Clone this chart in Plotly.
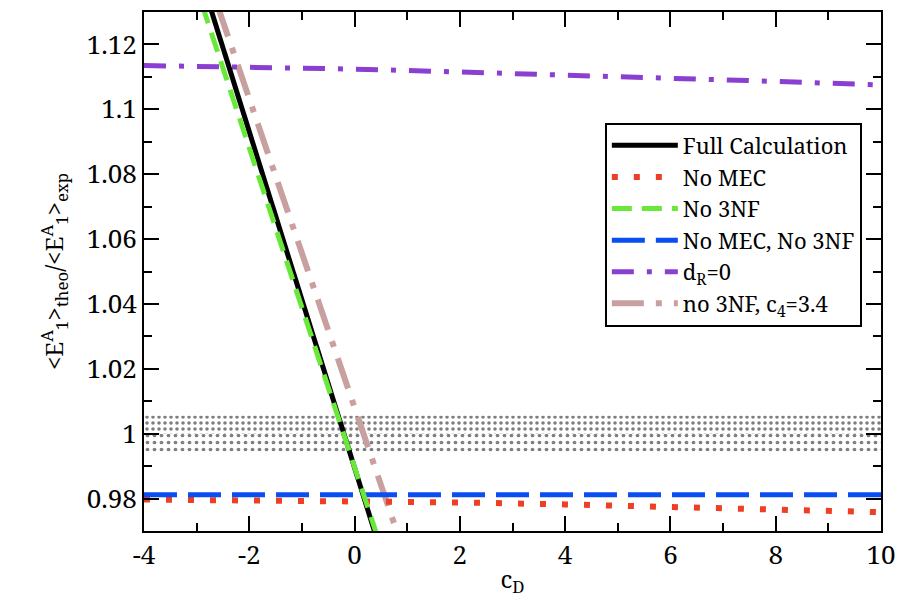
import plotly.graph_objects as go

# ---------------- data ----------------
cd_full = [-2.8, -2.0, -1.0, 0.0, 0.45]
y_full = [1.1345, 1.0931, 1.0413, 0.9895, 0.9662]

cd_no3nf = [-2.9, -2.0, -1.0, 0.0, 0.45]
y_no3nf = [1.1324, 1.0881, 1.0389, 0.9897, 0.9675]

cd_c4 = [-2.6, -2.0, -1.0, 0.0, 0.85]
y_c4 = [1.1318, 1.1033, 1.0557, 1.0081, 0.9676]

cd_flat = [-4, -2, 0, 2, 4, 6, 8, 10]
y_nomec = [0.9797, 0.9795, 0.9793, 0.9788, 0.9782, 0.9775, 0.9768, 0.9758]
y_nomec_no3nf = [0.9812, 0.9812, 0.9812, 0.9812, 0.9812, 0.9812, 0.9812, 0.9812]
y_dr0 = [1.1135, 1.1130, 1.1124, 1.1115, 1.1106, 1.1096, 1.1086, 1.1075]

band_x = [-4, 10, 10, -4]
band_upper = [1.0, 1.0, 1.0055, 1.0055]
band_lower = [0.9945, 0.9945, 1.0, 1.0]

x_ticks = [-4, -2, 0, 2, 4, 6, 8, 10]
x_ticklabels = ["-4", "-2", "0", "2", "4", "6", "8", "10"]
y_ticks = [0.98, 1.0, 1.02, 1.04, 1.06, 1.08, 1.1, 1.12]
y_ticklabels = ["0.98", "1", "1.02", "1.04", "1.06", "1.08", "1.1", "1.12"]

FONT = '"Noto Serif", "DejaVu Serif", serif'

fig = go.Figure()

# experimental band
fig.add_trace(go.Scatter(x=band_x, y=band_upper, fill="toself", mode="lines",
                         line=dict(width=0), fillcolor="white",
                         fillpattern=dict(shape=".", fgcolor="black", bgcolor="white",
                                          size=6, solidity=0.28),
                         showlegend=False, hoverinfo="skip"))
fig.add_trace(go.Scatter(x=band_x, y=band_lower, fill="toself", mode="lines",
                         line=dict(width=0), fillcolor="white",
                         fillpattern=dict(shape=".", fgcolor="black", bgcolor="white",
                                          size=7, solidity=0.22),
                         showlegend=False, hoverinfo="skip"))

fig.add_trace(go.Scatter(x=cd_c4, y=y_c4, mode="lines", name="no 3NF, c<sub>4</sub>=3.4",
                         line=dict(color="#c9a0a0", width=6, dash="32px,12px,6px,12px"),
                         legendrank=6))
fig.add_trace(go.Scatter(x=cd_flat, y=y_dr0, mode="lines", name="d<sub>R</sub>=0",
                         line=dict(color="#8a3fd0", width=5, dash="22px,13px,5px,13px"),
                         legendrank=5))
fig.add_trace(go.Scatter(x=cd_flat, y=y_nomec, mode="lines", name="No MEC",
                         line=dict(color="#ec3f25", width=6, dash="6px,16px"),
                         legendrank=2))
fig.add_trace(go.Scatter(x=cd_flat, y=y_nomec_no3nf, mode="lines", name="No MEC, No 3NF",
                         line=dict(color="#0a4df2", width=5, dash="33px,11px"),
                         legendrank=4))
fig.add_trace(go.Scatter(x=cd_full, y=y_full, mode="lines", name="Full Calculation",
                         line=dict(color="black", width=5), legendrank=1))
fig.add_trace(go.Scatter(x=cd_no3nf, y=y_no3nf, mode="lines", name="No 3NF",
                         line=dict(color="#6ae83a", width=5, dash="20px,10px"),
                         legendrank=3))

axis_common = dict(showline=True, linecolor="black", linewidth=2, mirror="allticks",
                   ticks="inside", ticklen=15, tickwidth=2, tickcolor="black",
                   showgrid=False, zeroline=False,
                   tickfont=dict(family=FONT, size=26, color="black"))

fig.update_xaxes(range=[-4, 10], tickvals=x_ticks, ticktext=x_ticklabels,
                 minor=dict(dtick=1, ticks="inside", ticklen=8, tickwidth=2, tickcolor="black"),
                 title=dict(text="c<sub>D</sub>", font=dict(family=FONT, size=24, color="black"),
                            standoff=0),
                 **axis_common)
fig.update_yaxes(range=[0.97, 1.13], tickvals=y_ticks, ticktext=y_ticklabels,
                 minor=dict(dtick=0.01, ticks="inside", ticklen=8, tickwidth=2, tickcolor="black"),
                 title=dict(text="&lt;E<sup>A</sup><sub>1</sub>&gt;<sub>theo</sub>/&lt;E<sup>A</sup><sub>1</sub>&gt;<sub>exp</sub>",
                            font=dict(family=FONT, size=24, color="black"), standoff=16),
                 **axis_common)

fig.update_layout(
    width=906, height=599,
    margin=dict(l=144, r=24, t=10, b=63),
    plot_bgcolor="white", paper_bgcolor="white",
    legend=dict(x=0.974, y=0.787, xanchor="right", yanchor="top",
                bordercolor="black", borderwidth=2, bgcolor="white",
                font=dict(family=FONT, size=22, color="black"),
                itemwidth=66, tracegroupgap=0),
)

fig.write_html("out.html", config={"displayModeBar": False},
               post_script="document.body.style.margin='0';document.body.style.padding='0';")
